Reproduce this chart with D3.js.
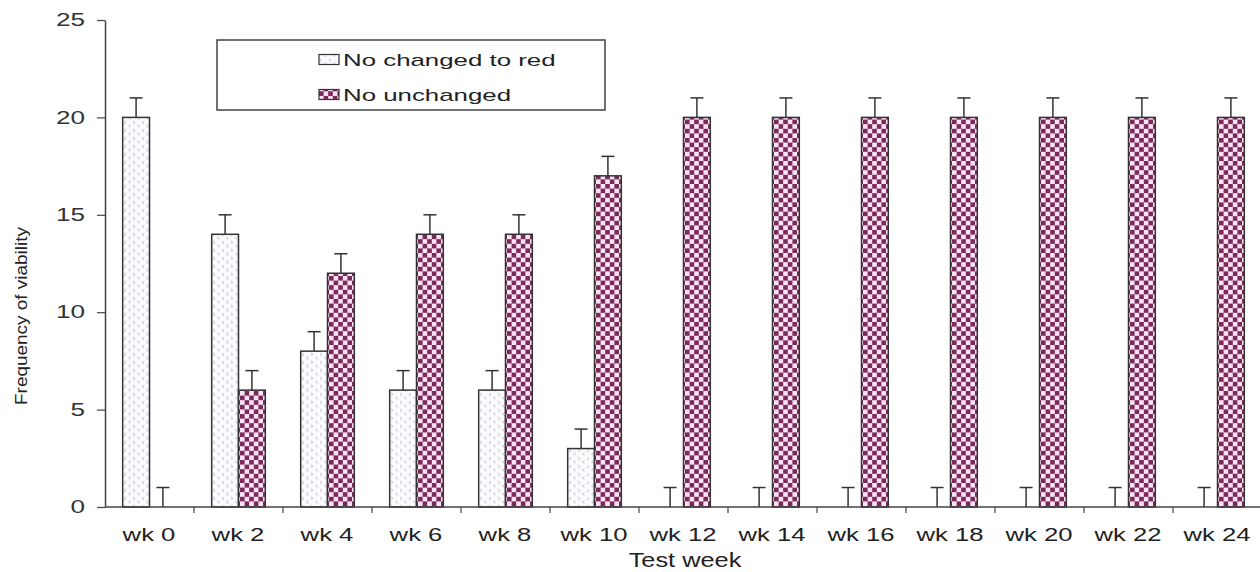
<!DOCTYPE html>
<html>
<head>
<meta charset="utf-8">
<script src="https://cdn.jsdelivr.net/npm/d3@7"></script>
<style>
  html, body { margin: 0; padding: 0; background: #fff; }
  svg { display: block; font-family: "Liberation Sans", Arial, sans-serif; }
</style>
</head>
<body>
<svg id="chart" width="1260" height="572"></svg>
<script>
// Test weeks and counts per outcome
const weeks = ["wk 0", "wk 2", "wk 4", "wk 6", "wk 8", "wk 10", "wk 12", "wk 14", "wk 16", "wk 18", "wk 20", "wk 22", "wk 24"];
const seriesNames = ["No changed to red", "No unchanged"];
const changedToRed = [20, 14, 8, 6, 6, 3, 0, 0, 0, 0, 0, 0, 0];
const unchanged = [0, 6, 12, 14, 14, 17, 20, 20, 20, 20, 20, 20, 20];
const changedErr = [1, 1, 1, 1, 1, 1, 1, 1, 1, 1, 1, 1, 1];
const unchangedErr = [1, 1, 1, 1, 1, 1, 1, 1, 1, 1, 1, 1, 1];
const yTicks = [0, 5, 10, 15, 20, 25];

const svg = d3.select("#chart");
const plotLeft = 105, plotRight = 1262, plotTop = 20, plotBottom = 507;

// Widen horizontal text glyphs by a factor
function widen(sel, k) {
  sel.each(function () {
    const w = this.getComputedTextLength();
    d3.select(this).attr("textLength", w * k).attr("lengthAdjust", "spacingAndGlyphs");
  });
}

const x = d3.scaleBand().domain(weeks).range([plotLeft, plotRight]).paddingInner(0).paddingOuter(0);
const x1 = d3.scaleBand().domain(seriesNames).range([0, x.bandwidth()]).paddingInner(0).paddingOuter(0.66);
const y = d3.scaleLinear().domain([0, 25]).range([plotBottom, plotTop]);

// Fill patterns
const defs = svg.append("defs");
const dots = defs.append("pattern").attr("id", "pat-red")
  .attr("patternUnits", "userSpaceOnUse").attr("width", 9).attr("height", 8);
dots.append("rect").attr("width", 9).attr("height", 8).attr("fill", "#fbfbfd");
dots.append("path").attr("d", "M1,1 L3,2.5 L1,4").attr("fill", "none").attr("stroke", "#b3b7c6").attr("stroke-width", 0.8);
dots.append("path").attr("d", "M7.5,4.5 L5.5,6 L7.5,7.5").attr("fill", "none").attr("stroke", "#b3b7c6").attr("stroke-width", 0.8);

const cs = 4.6;
const check = defs.append("pattern").attr("id", "pat-unch")
  .attr("patternUnits", "userSpaceOnUse").attr("width", cs * 2).attr("height", cs * 2);
check.append("rect").attr("width", cs * 2).attr("height", cs * 2).attr("fill", "#fbe2f4");
check.append("rect").attr("width", cs).attr("height", cs).attr("fill", "#7b2b59");
check.append("rect").attr("x", cs).attr("y", cs).attr("width", cs).attr("height", cs).attr("fill", "#7b2b59");

const fills = { "No changed to red": "url(#pat-red)", "No unchanged": "url(#pat-unch)" };

const rows = weeks.map((w, i) => ({
  week: w,
  vals: [
    { s: seriesNames[0], v: changedToRed[i], e: changedErr[i] },
    { s: seriesNames[1], v: unchanged[i], e: unchangedErr[i] }
  ]
}));

// Bars
const groups = svg.append("g").selectAll("g").data(rows).join("g")
  .attr("transform", d => `translate(${x(d.week)},0)`);

groups.selectAll("rect.bar").data(d => d.vals.filter(v => v.v > 0)).join("rect")
  .attr("class", "bar")
  .attr("x", d => x1(d.s))
  .attr("y", d => y(d.v))
  .attr("width", x1.bandwidth())
  .attr("height", d => y(0) - y(d.v))
  .attr("fill", d => fills[d.s])
  .attr("stroke", "#333")
  .attr("stroke-width", 1.5);

// Error bars (upper only)
const capHalf = 6.5;
const err = groups.selectAll("g.err").data(d => d.vals).join("g").attr("class", "err");
err.append("line")
  .attr("x1", d => x1(d.s) + x1.bandwidth() / 2)
  .attr("x2", d => x1(d.s) + x1.bandwidth() / 2)
  .attr("y1", d => y(d.v))
  .attr("y2", d => y(d.v + d.e))
  .attr("stroke", "#333").attr("stroke-width", 1.5);
err.append("line")
  .attr("x1", d => x1(d.s) + x1.bandwidth() / 2 - capHalf)
  .attr("x2", d => x1(d.s) + x1.bandwidth() / 2 + capHalf)
  .attr("y1", d => y(d.v + d.e))
  .attr("y2", d => y(d.v + d.e))
  .attr("stroke", "#333").attr("stroke-width", 1.5);

// Y axis
const yAxis = svg.append("g").attr("transform", `translate(${plotLeft},0)`)
  .call(d3.axisLeft(y).tickValues(yTicks).tickSize(8).tickPadding(12).tickSizeOuter(0));
yAxis.select(".domain").attr("stroke", "#444").attr("stroke-width", 1.5);
yAxis.selectAll(".tick line").attr("stroke", "#444").attr("stroke-width", 1.2);
yAxis.selectAll(".tick text").attr("font-size", 18).attr("fill", "#333")
  .attr("font-family", "Liberation Sans, Arial, sans-serif")
  .call(widen, 1.45);

// X axis: ticks sit on the boundaries between weeks
const xAxisG = svg.append("g").attr("transform", `translate(0,${plotBottom})`);
xAxisG.append("line").attr("x1", plotLeft).attr("x2", 1260).attr("y1", 0).attr("y2", 0)
  .attr("stroke", "#444").attr("stroke-width", 1.5);
xAxisG.selectAll("line.tk").data(weeks.slice(1)).join("line").attr("class", "tk")
  .attr("x1", d => x(d)).attr("x2", d => x(d))
  .attr("y1", 0).attr("y2", 6)
  .attr("stroke", "#444").attr("stroke-width", 1.2);
xAxisG.selectAll("text").data(weeks).join("text")
  .attr("x", d => x(d) + x.bandwidth() / 2 - 0.5)
  .attr("y", 34)
  .attr("text-anchor", "middle")
  .attr("font-size", 19).attr("fill", "#222")
  .text(d => d)
  .call(widen, 1.35);

// Axis titles
svg.append("text").attr("x", 685).attr("y", 567).attr("text-anchor", "middle")
  .attr("font-size", 19.5).attr("fill", "#222").text("Test week")
  .call(widen, 1.3);
svg.append("text")
  .attr("transform", "translate(27,316) rotate(-90)")
  .attr("text-anchor", "middle")
  .attr("font-size", 16).attr("fill", "#222")
  .attr("textLength", 178).attr("lengthAdjust", "spacingAndGlyphs")
  .text("Frequency of viability");

// Legend
const lg = svg.append("g");
lg.append("rect").attr("x", 217).attr("y", 40).attr("width", 388).attr("height", 70)
  .attr("fill", "#fff").attr("stroke", "#444").attr("stroke-width", 1.5);
const li = lg.selectAll("g.item").data(seriesNames).join("g").attr("class", "item")
  .attr("transform", (d, i) => `translate(319,${65.5 + i * 35})`);
li.append("rect").attr("y", -11).attr("width", 20).attr("height", 10)
  .attr("fill", d => fills[d]).attr("stroke", "#333").attr("stroke-width", 1.2);
li.append("text").attr("x", 24).attr("y", 0).attr("font-size", 17).attr("fill", "#222").text(d => d)
  .call(widen, 1.52);
</script>
</body>
</html>
